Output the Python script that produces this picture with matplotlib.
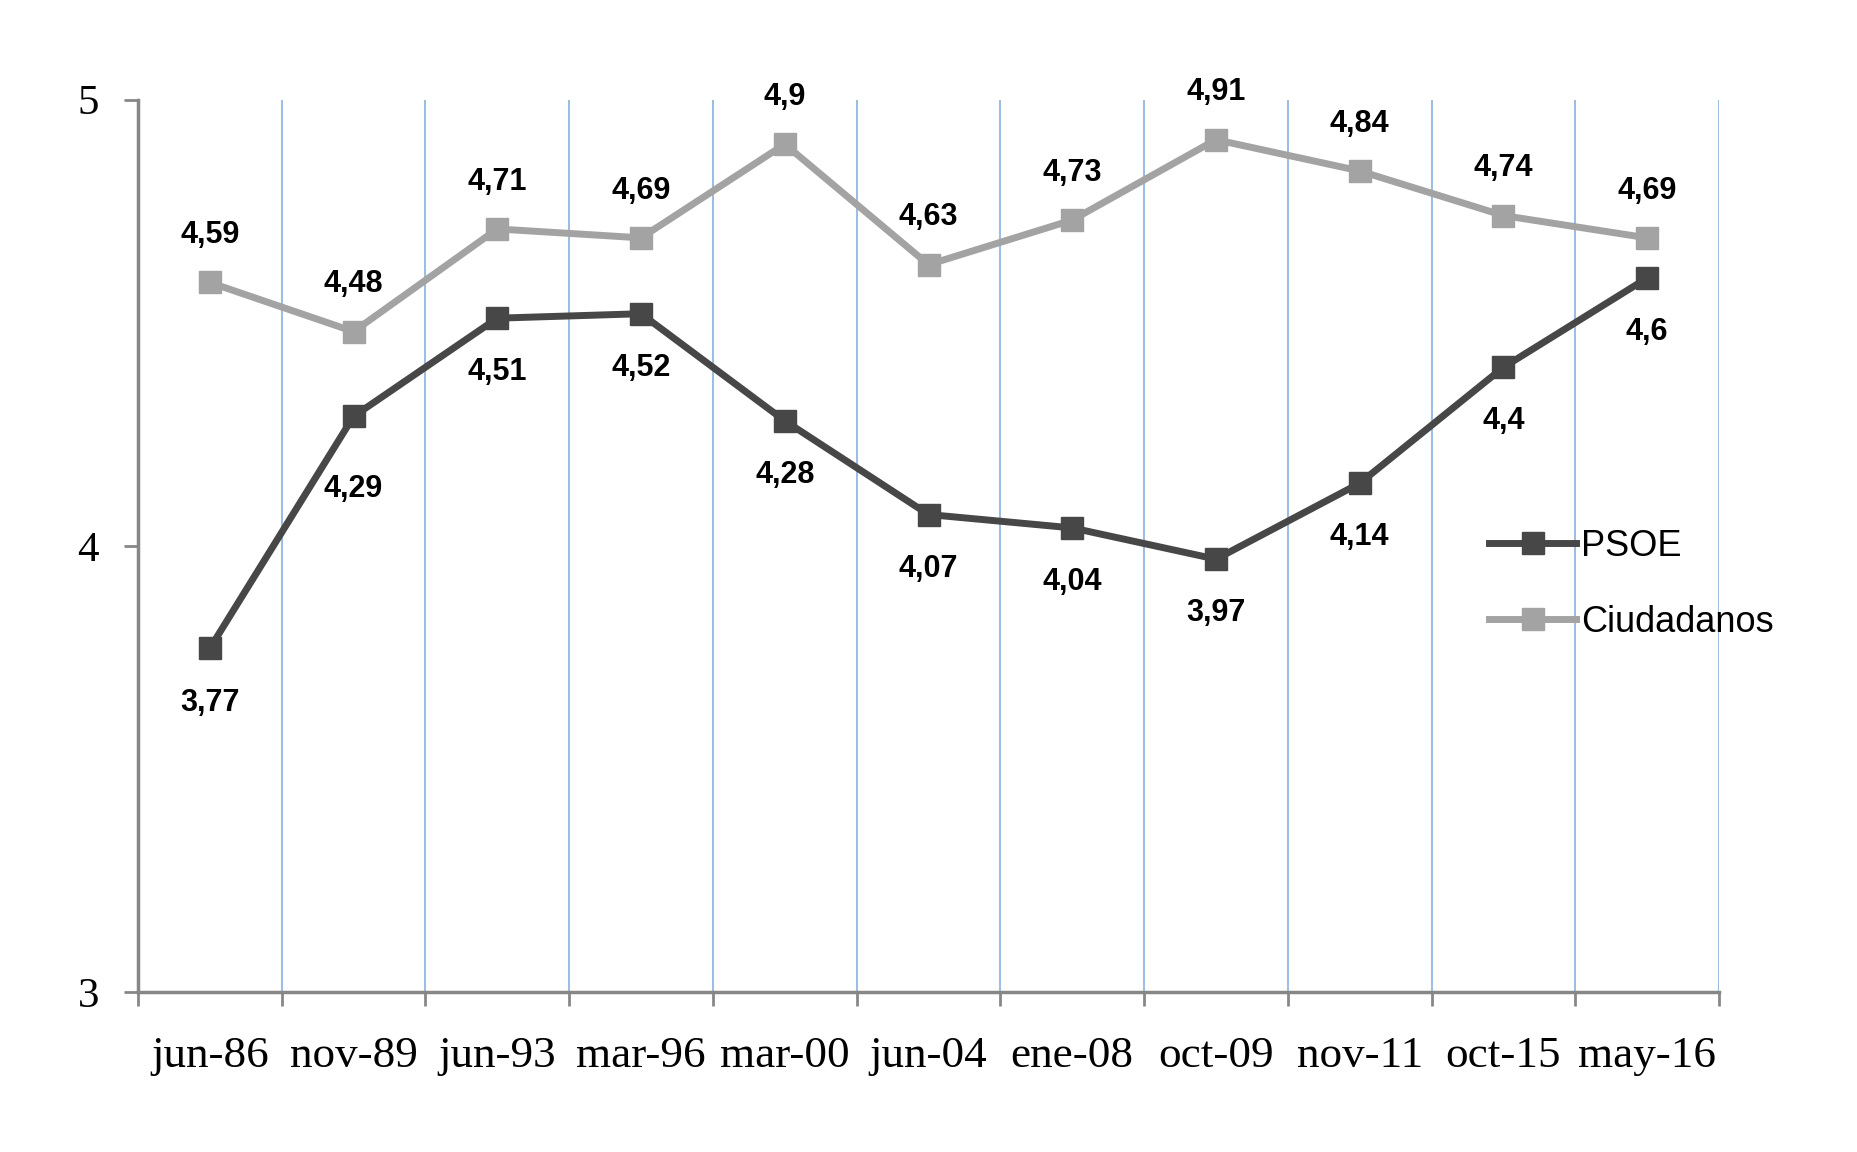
import matplotlib.pyplot as plt
import numpy as np

# datos
fechas = ['jun-86', 'nov-89', 'jun-93', 'mar-96', 'mar-00', 'jun-04',
          'ene-08', 'oct-09', 'nov-11', 'oct-15', 'may-16']
psoe = [3.77, 4.29, 4.51, 4.52, 4.28, 4.07, 4.04, 3.97, 4.14, 4.4, 4.6]
ciudadanos = [4.59, 4.48, 4.71, 4.69, 4.9, 4.63, 4.73, 4.91, 4.84, 4.74, 4.69]
yticks = [3, 4, 5]

c_psoe = '#474747'
c_ciu = '#a3a3a3'
c_axis = '#878787'
c_grid = '#9dbde3'


def fmt(v):
    return ('%g' % v).replace('.', ',')


fig = plt.figure(figsize=(18.57, 11.52), dpi=100)
ax = fig.add_axes([0.0743, 0.1389, 0.8514, 0.7747])

x = np.arange(len(fechas))
ax.plot(x, psoe, color=c_psoe, lw=5, marker='s', ms=16, label='PSOE', zorder=3)
ax.plot(x, ciudadanos, color=c_ciu, lw=5, marker='s', ms=16, label='Ciudadanos', zorder=3)

# etiquetas de datos (la de nov-89 va algo mas abajo, como en el original)
for i, (xi, v) in enumerate(zip(x, psoe)):
    dy = -52 if i == 1 else -39
    ax.annotate(fmt(v), (xi, v), xytext=(0, dy), textcoords='offset points',
                ha='center', va='center', fontsize=22, fontweight='bold',
                family='Liberation Sans')
for xi, v in zip(x, ciudadanos):
    ax.annotate(fmt(v), (xi, v), xytext=(0, 34), textcoords='offset points',
                ha='center', va='center', fontsize=22, fontweight='bold',
                family='Liberation Sans')

ax.set_xlim(-0.5, len(fechas) - 0.5)
ax.set_ylim(3, 5)
ax.set_yticks(yticks)
ax.set_yticklabels([str(t) for t in yticks], family='Liberation Serif', fontsize=31)
ax.set_xticks(x)
ax.set_xticklabels(fechas, family='Liberation Serif', fontsize=32.5)
ax.set_xticks(np.arange(len(fechas) + 1) - 0.5, minor=True)

ax.tick_params(axis='x', which='major', length=0, pad=32)
ax.tick_params(axis='x', which='minor', length=10, width=2, color=c_axis, direction='out')
ax.tick_params(axis='y', length=10, width=2, color=c_axis, pad=18)

# lineas verticales de division
for b in np.arange(1, len(fechas) + 1) - 0.5:
    ax.axvline(b, color=c_grid, lw=1.5, zorder=1)

for s in ['top', 'right']:
    ax.spines[s].set_visible(False)
for s in ['left', 'bottom']:
    ax.spines[s].set_color(c_axis)
    ax.spines[s].set_linewidth(2.5)

ax.legend(loc='upper left', bbox_to_anchor=(0.802, 0.541), bbox_transform=fig.transFigure,
          frameon=False, prop={'family': 'Liberation Sans', 'size': 26},
          handlelength=2.4, handletextpad=0.15, labelspacing=1.13,
          borderpad=0, borderaxespad=0)

plt.savefig('out.png', dpi=100)
